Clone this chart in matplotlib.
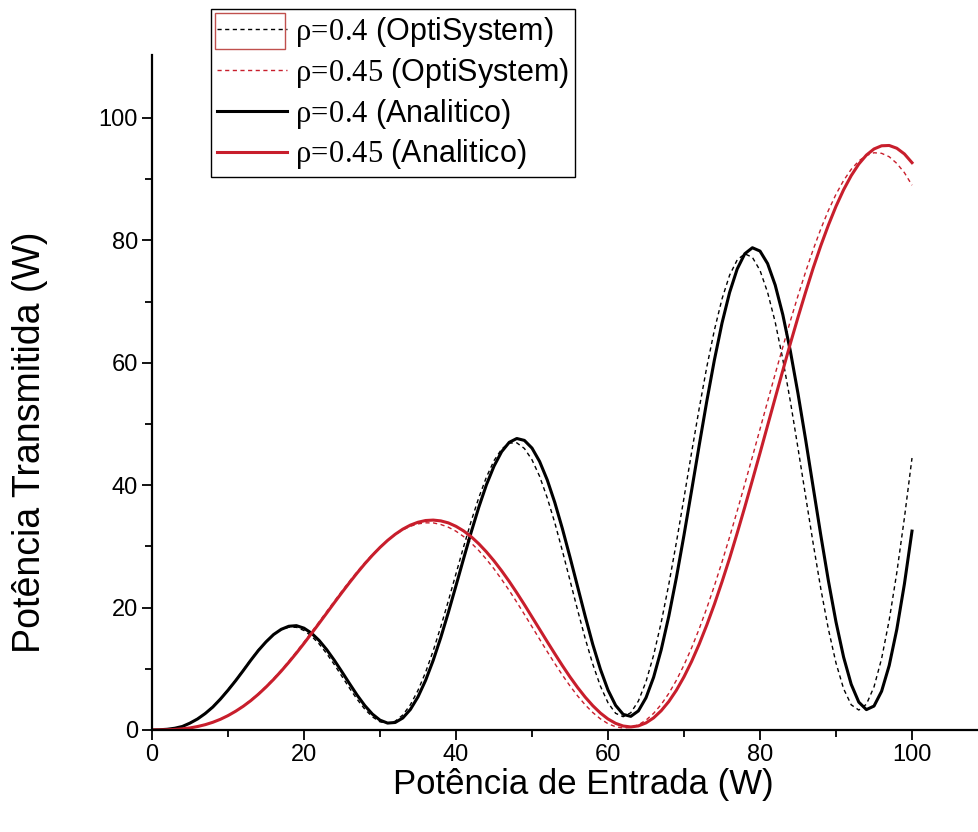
import matplotlib
matplotlib.use('Agg')
import matplotlib.pyplot as plt
from matplotlib.patches import Rectangle

plt.rcParams['font.family'] = ['Liberation Sans', 'DejaVu Sans']
plt.rcParams['mathtext.fontset'] = 'custom'
plt.rcParams['mathtext.rm'] = 'Liberation Serif'
plt.rcParams['mathtext.it'] = 'Liberation Serif:italic'

# potencia de entrada (W)
potencia_entrada = list(range(0, 101))

# rho = 0.4, analitico
analitico_04 = [
    0, 0.04, 0.12, 0.29, 0.58, 1.13, 1.81, 2.69, 3.75, 5.05,
    6.50, 8.05, 9.70, 11.40, 13.00, 14.40, 15.60, 16.45, 16.95, 17.05,
    16.64, 15.81, 14.62, 13.11, 11.37, 9.49, 7.56, 5.68, 3.99, 2.60,
    1.61, 1.13, 1.23, 1.96, 3.36, 5.42, 8.11, 11.38, 15.12, 19.24,
    23.59, 28.00, 32.33, 36.40, 40.06, 43.11, 45.47, 47.00, 47.63, 47.32,
    46.06, 43.88, 40.88, 37.17, 32.89, 28.24, 23.42, 18.59, 13.97, 9.93,
    6.53, 4.03, 2.55, 2.23, 3.12, 5.27, 8.61, 13.11, 18.59, 24.91,
    31.85, 39.13, 46.52, 53.74, 60.47, 66.48, 71.49, 75.33, 77.82, 78.80,
    78.26, 76.21, 72.70, 67.87, 61.88, 54.97, 47.47, 39.64, 31.83, 24.38,
    17.65, 11.91, 7.47, 4.55, 3.33, 3.91, 6.33, 10.54, 16.44, 23.85,
    32.50]

# rho = 0.4, OptiSystem
optisystem_04 = [
    0, 0.04, 0.12, 0.29, 0.59, 1.15, 1.85, 2.74, 3.81, 5.10,
    6.60, 8.15, 9.80, 11.50, 13.10, 14.45, 15.60, 16.40, 16.80, 16.78,
    16.26, 15.33, 14.05, 12.46, 10.67, 8.75, 6.82, 5.00, 3.40, 2.15,
    1.34, 1.09, 1.43, 2.45, 4.13, 6.48, 9.44, 12.95, 16.89, 21.13,
    25.55, 29.93, 34.14, 37.97, 41.32, 44.01, 45.89, 46.88, 46.92, 46.00,
    44.15, 41.45, 37.95, 33.86, 29.26, 24.44, 19.60, 14.95, 10.74, 7.17,
    4.45, 2.73, 2.17, 2.82, 4.74, 7.90, 12.22, 17.57, 23.80, 30.66,
    37.93, 45.35, 52.55, 59.33, 65.35, 70.44, 74.32, 76.81, 77.81, 77.23,
    75.10, 71.51, 66.65, 60.58, 53.66, 46.05, 38.22, 30.45, 23.08, 16.47,
    10.94, 6.74, 4.12, 3.26, 4.21, 7.04, 11.66, 17.95, 25.71, 34.65,
    44.44]

# rho = 0.45, analitico
analitico_045 = [
    0, 0.01, 0.04, 0.09, 0.19, 0.34, 0.57, 0.87, 1.26, 1.75,
    2.35, 3.06, 3.87, 4.80, 5.85, 7.01, 8.27, 9.62, 11.06, 12.57,
    14.15, 15.79, 17.45, 19.13, 20.82, 22.48, 24.10, 25.67, 27.16, 28.55,
    29.83, 30.98, 31.98, 32.82, 33.48, 33.95, 34.23, 34.30, 34.17, 33.84,
    33.28, 32.53, 31.58, 30.43, 29.11, 27.64, 26.02, 24.28, 22.42, 20.48,
    18.47, 16.46, 14.44, 12.46, 10.52, 8.67, 6.95, 5.37, 3.97, 2.77,
    1.80, 1.09, 0.65, 0.50, 0.67, 1.16, 1.98, 3.15, 4.65, 6.50,
    8.69, 11.20, 14.03, 17.16, 20.55, 24.21, 28.07, 32.18, 36.43, 40.82,
    45.25, 49.76, 54.26, 58.74, 63.17, 67.44, 71.54, 75.49, 79.14, 82.50,
    85.57, 88.27, 90.58, 92.48, 93.94, 94.94, 95.46, 95.51, 95.06, 94.13,
    92.70]

# rho = 0.45, OptiSystem
optisystem_045 = [
    0, 0.01, 0.03, 0.08, 0.18, 0.34, 0.56, 0.87, 1.27, 1.77,
    2.38, 3.10, 3.94, 4.88, 5.95, 7.13, 8.40, 9.78, 11.24, 12.78,
    14.37, 16.02, 17.69, 19.38, 21.06, 22.72, 24.33, 25.87, 27.33, 28.68,
    29.90, 31.00, 31.93, 32.70, 33.29, 33.68, 33.85, 33.84, 33.58, 33.13,
    32.48, 31.61, 30.56, 29.32, 27.89, 26.33, 24.61, 22.80, 20.88, 18.89,
    16.87, 14.84, 12.82, 10.86, 8.97, 7.20, 5.57, 4.11, 2.85, 1.82,
    1.03, 0.53, 0.32, 0.42, 0.84, 1.61, 2.72, 4.17, 5.98, 8.13,
    10.62, 13.42, 16.53, 19.92, 23.57, 27.45, 31.53, 35.79, 40.19, 44.64,
    49.16, 53.69, 58.19, 62.57, 66.86, 70.96, 74.85, 78.51, 81.87, 84.90,
    87.54, 89.79, 91.61, 92.98, 93.88, 94.32, 94.23, 93.67, 92.58, 91.07,
    89.02]

rotulos = [r'$\mathrm{\rho\!=\!0.4}$ (OptiSystem)',
           r'$\mathrm{\rho\!=\!0.45}$ (OptiSystem)',
           r'$\mathrm{\rho\!=\!0.4}$ (Analitico)',
           r'$\mathrm{\rho\!=\!0.45}$ (Analitico)']

vermelho = '#c81e2c'
tracejado = (0, (3, 2.5))

fig = plt.figure(figsize=(9.79, 8.32), dpi=100)
ax = fig.add_axes([152 / 979, 102 / 832, 827 / 979, 675 / 832])

l1, = ax.plot(potencia_entrada, optisystem_04, color='black', lw=1.0, ls=tracejado)
l2, = ax.plot(potencia_entrada, optisystem_045, color=vermelho, lw=1.0, ls=tracejado)
l3, = ax.plot(potencia_entrada, analitico_04, color='black', lw=2.2)
l4, = ax.plot(potencia_entrada, analitico_045, color=vermelho, lw=2.2)

ax.set_xlim(0, 827 / 7.6)
ax.set_ylim(0, 675 / 6.12)
ax.set_xticks([0, 20, 40, 60, 80, 100])
ax.set_xticks([10, 30, 50, 70, 90], minor=True)
ax.set_yticks([0, 20, 40, 60, 80, 100])
ax.set_yticks([10, 30, 50, 70, 90], minor=True)
ax.tick_params(which='major', direction='out', length=7, width=1.3, labelsize=17, pad=3)
ax.tick_params(which='minor', direction='out', length=5, width=1.3)

for lado in ['top', 'right']:
    ax.spines[lado].set_visible(False)
for lado in ['left', 'bottom']:
    ax.spines[lado].set_linewidth(1.6)

ax.set_xlabel('Potência de Entrada (W)', fontsize=25)
ax.xaxis.label.set_va('center')
ax.xaxis.set_label_coords(0.521, -0.081)
ax.set_ylabel('Potência Transmitida (W)', fontsize=27)
ax.yaxis.label.set_va('center')
ax.yaxis.set_label_coords(-0.1475, 0.427)

leg = ax.legend([l1, l2, l3, l4], rotulos, loc='upper left',
                bbox_to_anchor=(211 / 979, 1 - 9 / 832), bbox_transform=fig.transFigure,
                fancybox=False, edgecolor='black', framealpha=1, fontsize=22,
                handlelength=2.3, handletextpad=0.25, labelspacing=0.22,
                borderpad=0.2, borderaxespad=0)
leg.get_frame().set_linewidth(1.0)

# caixa vermelha de selecao em torno do primeiro item da legenda
fig.patches.append(Rectangle((215 / 979, 1 - 49 / 832), 70 / 979, 36 / 832,
                             transform=fig.transFigure, fill=False,
                             edgecolor='#c0504d', lw=1.0, zorder=10))

fig.savefig('out.png', dpi=100)
